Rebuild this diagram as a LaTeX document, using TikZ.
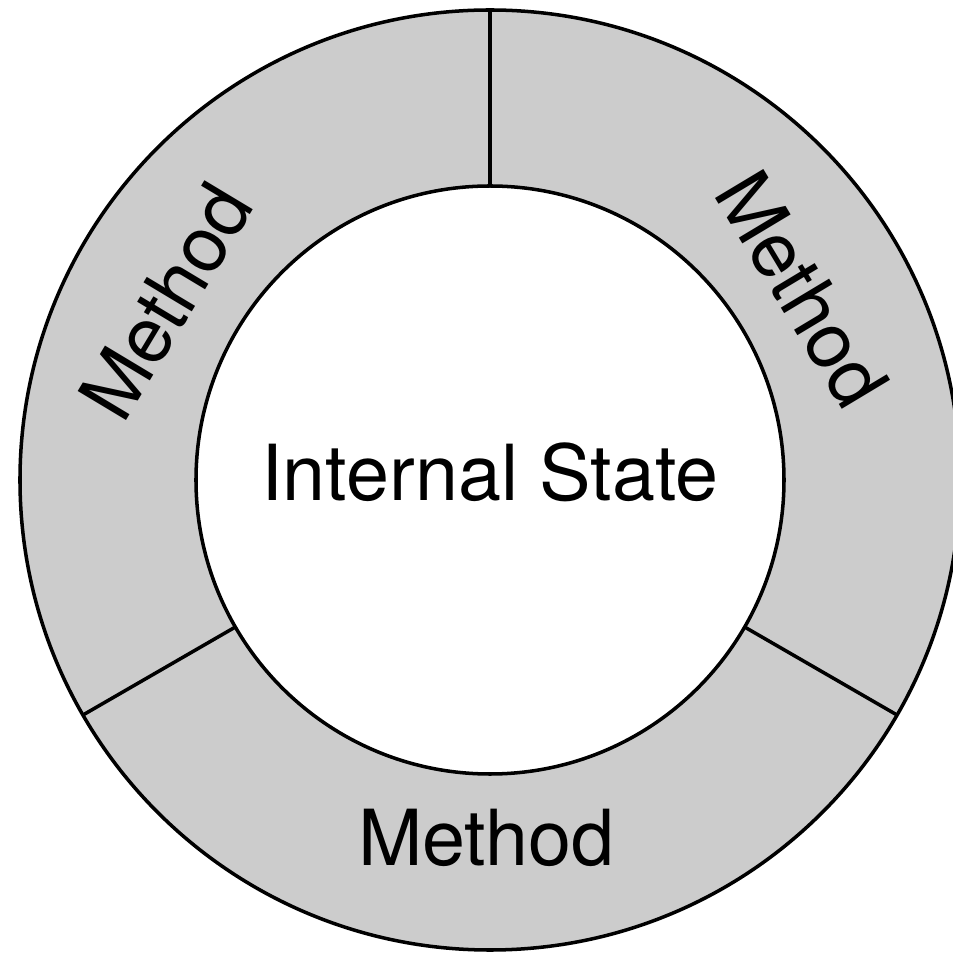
\documentclass[tikz,border=0pt]{standalone}
\usepackage{fontspec}
\setmainfont{TeX Gyre Heros}
\usepackage{tikz}
\usetikzlibrary{positioning}

\begin{document}
\begin{tikzpicture}[
    ring/.style={draw=black, line width=1pt, fill=black!20},
    core/.style={draw=black, line width=1pt, fill=white},
    divider/.style={draw=black, line width=1pt},
    label/.style={font=\fontsize{22}{26}\selectfont, inner sep=0pt}
]
\useasboundingbox (-4.90,-4.73) rectangle (4.63,4.80);
\clip (-4.90,-4.73) rectangle (4.63,4.80);

% Outer ring and internal state
\path[ring] (0,0) circle (4.70);
\foreach \a in {90,210,330}
    \draw[divider] (\a:2.94) -- (\a:4.70);
\path[core] (0,0) circle (2.94);

% Labels
\node[label] (state) at (0,0.075) {Internal State};
\node[label, rotate=59] (methodL) at (151.2:3.70) {Method};
\node[label, rotate=-59] (methodR) at (31.4:3.66) {Method};
\node[label] (methodB) at (-0.035,-3.575) {Method};

\end{tikzpicture}
\end{document}
